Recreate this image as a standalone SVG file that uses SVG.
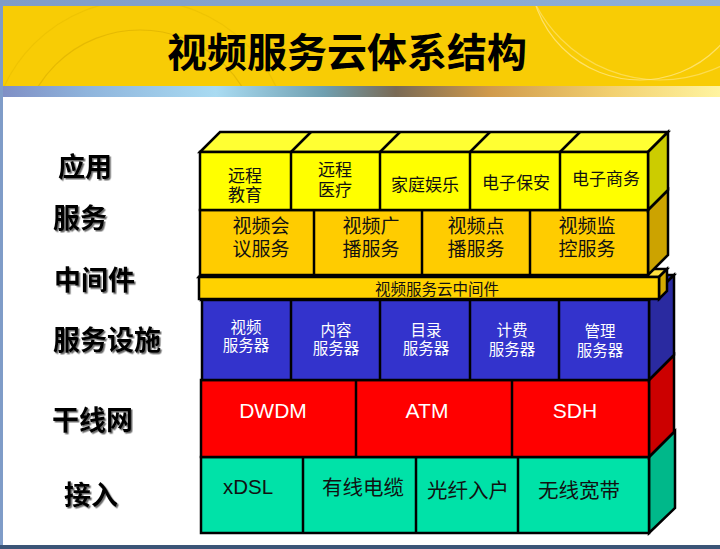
<svg xmlns="http://www.w3.org/2000/svg" width="720" height="549" viewBox="0 0 720 549">
<defs>
<linearGradient id="strip" x1="0" y1="0" x2="1" y2="0">
<stop offset="0" stop-color="#7f8ec4"/>
<stop offset="0.12" stop-color="#8fb4dc"/>
<stop offset="0.3" stop-color="#a9dbf2"/>
<stop offset="0.45" stop-color="#6f9fb0"/>
<stop offset="0.55" stop-color="#7a6a55"/>
<stop offset="0.68" stop-color="#d09a4c"/>
<stop offset="0.85" stop-color="#f2d070"/>
<stop offset="1" stop-color="#fff4a0"/>
</linearGradient>
<linearGradient id="topbar" x1="0" y1="0" x2="1" y2="0">
<stop offset="0" stop-color="#7f9cc8"/>
<stop offset="1" stop-color="#8fb0d8"/>
</linearGradient>
<clipPath id="banner"><rect x="0" y="6" width="720" height="80"/></clipPath>
<filter id="sh" x="-10%" y="-10%" width="130%" height="140%">
<feDropShadow dx="1.5" dy="1.5" stdDeviation="0.7" flood-color="#444" flood-opacity="0.8"/>
</filter>
<style>
.ol{stroke:#000;stroke-width:2.5;stroke-linejoin:miter}
.dv{stroke:#000;stroke-width:2.5;fill:none}
.cj{font-family:"Noto Sans CJK SC","Noto Sans",sans-serif;text-anchor:middle}
.lab{font-family:"Noto Sans CJK SC",sans-serif;font-weight:bold;font-size:27px;fill:#000;filter:url(#sh)}
.en{font-family:"Liberation Sans",Arial,sans-serif;text-anchor:middle}
.app{font-size:17px;fill:#111}
.svc{font-size:19px;fill:#111}
.srv{font-size:15.5px;fill:#fff}
.net{font-size:21px;fill:#fff}
.acc{font-size:20.5px;fill:#111}
</style>
</defs>

<!-- page background -->
<rect x="0" y="0" width="720" height="549" fill="#ffffff"/>
<rect x="0" y="0" width="720" height="6" fill="url(#topbar)"/>
<rect x="0" y="6" width="720" height="80" fill="#f8cc05"/>
<g fill="none" stroke-width="1.2" clip-path="url(#banner)">
<circle cx="140" cy="150" r="120" stroke="#d9ae00" opacity="0.6"/>
<circle cx="140" cy="150" r="150" stroke="#e6bb00" opacity="0.5"/>
<circle cx="640" cy="-30" r="110" stroke="#ffe680" opacity="0.8"/>
<circle cx="660" cy="-60" r="140" stroke="#ffe680" opacity="0.6"/>
</g>
<rect x="0" y="86" width="720" height="11" fill="url(#strip)"/>
<rect x="0" y="0" width="3" height="549" fill="#7f9cc8"/>
<rect x="0" y="545" width="720" height="4" fill="#3b5577"/>

<text id="title" x="347" y="67" class="cj" font-size="40" font-weight="bold" fill="#000">视频服务云体系结构</text>

<!-- left labels -->
<g id="labels">
<text x="58" y="177" class="lab">应用</text>
<text x="53" y="228" class="lab">服务</text>
<text x="54" y="290" class="lab">中间件</text>
<text x="53" y="350" class="lab">服务设施</text>
<text x="52" y="430" class="lab">干线网</text>
<text x="64" y="505" class="lab">接入</text>
</g>

<!-- access layer -->
<g id="layer-access">
<polygon points="649,457 675,431 675,508 649,533" fill="#00b88a" class="ol"/>
<rect x="201" y="457" width="448" height="76" fill="#00e2a8" class="ol"/>
<line x1="303" y1="457" x2="303" y2="533" class="dv"/>
<line x1="416" y1="457" x2="416" y2="534" class="dv"/>
<line x1="518" y1="457" x2="518" y2="533" class="dv"/>
<g id="n-xdsl"><text x="248" y="494" class="en acc">xDSL</text></g>
<g id="n-cable"><text x="363" y="495" class="cj acc">有线电缆</text></g>
<g id="n-ftth"><text x="468" y="498" class="cj acc">光纤入户</text></g>
<g id="n-wireless"><text x="579" y="498" class="cj acc">无线宽带</text></g>
</g>

<!-- trunk layer -->
<g id="layer-trunk">
<polygon points="649,380 674,355 674,432 649,457" fill="#cc0000" class="ol"/>
<rect x="201" y="380" width="448" height="77" fill="#ff0000" class="ol"/>
<line x1="356" y1="380" x2="356" y2="457" class="dv"/>
<line x1="512" y1="380" x2="512" y2="457" class="dv"/>
<g id="n-dwdm"><text x="273" y="418" class="en net">DWDM</text></g>
<g id="n-atm"><text x="427" y="418" class="en net">ATM</text></g>
<g id="n-sdh"><text x="575" y="418" class="en net">SDH</text></g>
</g>

<!-- server infrastructure layer -->
<g id="layer-servers">
<polygon points="202,300 227,275 674,275 649,300" fill="#3434c4" class="ol"/>
<polygon points="649,300 674,275 674,355 649,380" fill="#2a2aa0" class="ol"/>
<rect x="202" y="300" width="447" height="80" fill="#3333cc" class="ol"/>
<line x1="291" y1="300" x2="291" y2="380" class="dv"/>
<line x1="380" y1="300" x2="380" y2="380" class="dv"/>
<line x1="470" y1="300" x2="470" y2="380" class="dv"/>
<line x1="559" y1="300" x2="559" y2="380" class="dv"/>
<g id="n-video-srv"><text x="246" y="333" class="cj srv">视频<tspan x="246" dy="18">服务器</tspan></text></g>
<g id="n-content-srv"><text x="336" y="336" class="cj srv">内容<tspan x="336" dy="18">服务器</tspan></text></g>
<g id="n-dir-srv"><text x="426" y="336" class="cj srv">目录<tspan x="426" dy="18">服务器</tspan></text></g>
<g id="n-bill-srv"><text x="512" y="336" class="cj srv">计费<tspan x="512" dy="19">服务器</tspan></text></g>
<g id="n-mgmt-srv"><text x="600" y="337" class="cj srv">管理<tspan x="600" dy="19">服务器</tspan></text></g>
</g>

<!-- middleware layer -->
<g id="layer-middleware">
<polygon points="199,277 207,269 667,269 659,277" fill="#ffe040" class="ol"/>
<polygon points="659,277 667,269 667,291 659,299" fill="#d4aa00" class="ol"/>
<rect x="199" y="277" width="460" height="22" fill="#ffd200" class="ol"/>
<g id="n-middleware"><text x="437" y="294.5" class="cj" font-size="15.5" fill="#111">视频服务云中间件</text></g>
</g>

<!-- service layer -->
<g id="layer-service">
<polygon points="648,210 668,190 668,255 648,275" fill="#cca300" class="ol"/>
<rect x="200" y="210" width="448" height="65" fill="#ffcc00" class="ol"/>
<line x1="314" y1="210" x2="314" y2="275" class="dv"/>
<line x1="422" y1="210" x2="422" y2="275" class="dv"/>
<line x1="530" y1="210" x2="530" y2="275" class="dv"/>
<g id="n-conf"><text x="261" y="233" class="cj svc">视频会<tspan x="261" dy="23">议服务</tspan></text></g>
<g id="n-bcast"><text x="371" y="233" class="cj svc">视频广<tspan x="371" dy="23">播服务</tspan></text></g>
<g id="n-vod"><text x="476" y="233" class="cj svc">视频点<tspan x="476" dy="23">播服务</tspan></text></g>
<g id="n-surv"><text x="587" y="233" class="cj svc">视频监<tspan x="587" dy="23">控服务</tspan></text></g>
</g>

<!-- application layer -->
<g id="layer-app">
<polygon points="200,152 220,132 668,132 648,152" fill="#ffff33" class="ol"/>
<line x1="291" y1="152" x2="311" y2="132" class="dv"/>
<line x1="380" y1="152" x2="400" y2="132" class="dv"/>
<line x1="470" y1="152" x2="490" y2="132" class="dv"/>
<line x1="560" y1="152" x2="580" y2="132" class="dv"/>
<polygon points="648,152 668,132 668,190 648,210" fill="#cccc00" class="ol"/>
<rect x="200" y="152" width="448" height="58" fill="#ffff00" class="ol"/>
<line x1="291" y1="152" x2="291" y2="210" class="dv"/>
<line x1="380" y1="152" x2="380" y2="210" class="dv"/>
<line x1="470" y1="152" x2="470" y2="210" class="dv"/>
<line x1="560" y1="152" x2="560" y2="210" class="dv"/>
<g id="n-edu"><text x="245" y="182" class="cj app">远程<tspan x="245" dy="19">教育</tspan></text></g>
<g id="n-med"><text x="335" y="176" class="cj app">远程<tspan x="335" dy="20">医疗</tspan></text></g>
<g id="n-home"><text x="425" y="191" class="cj app">家庭娱乐</text></g>
<g id="n-security"><text x="516" y="189" class="cj app">电子保安</text></g>
<g id="n-ecom"><text x="606" y="185" class="cj app" font-size="18">电子商务</text></g>
</g>

<g id="connectors"></g>
</svg>
